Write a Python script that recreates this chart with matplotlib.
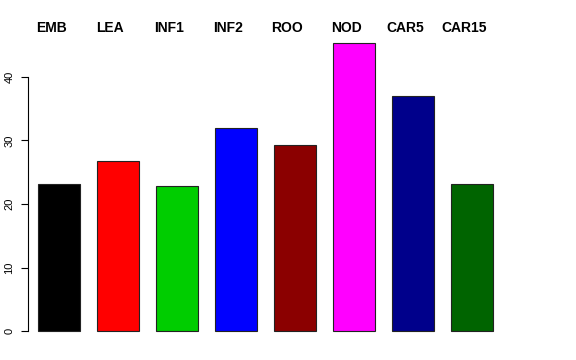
import matplotlib
matplotlib.use('Agg')
from matplotlib import pyplot as plt
import numpy as np

plt.rcParams['font.family'] = ['Liberation Sans', 'DejaVu Sans']

# 데이터
groups = ['EMB', 'LEA', 'INF1', 'INF2', 'ROO', 'NOD', 'CAR5', 'CAR15']
values = [23.2, 26.7, 22.9, 32.0, 29.3, 45.3, 37.0, 23.1]
colors = ['#000000', '#FF0000', '#00CD00', '#0000FF',
          '#8B0000', '#FF00FF', '#00008B', '#006400']
yticks = [0, 10, 20, 30, 40]

fig = plt.figure(figsize=(5.76, 3.6), dpi=100)
ax = fig.add_axes([28.3 / 576, 10 / 360, 531.7 / 576, 320 / 360])

x = np.arange(len(groups))
ax.bar(x, values, width=0.714, color=colors, edgecolor='#222222', linewidth=0.8)

# 막대 위쪽 그룹 이름
for i, g in enumerate(groups):
    ax.text(i - 0.14, 1.005, g, transform=ax.get_xaxis_transform(),
            ha='center', va='center', fontsize=10, fontweight='bold')

ax.set_xlim(-0.525, 8.487)
ax.set_ylim(-2.99, 47.4)

for s in ['top', 'right', 'bottom']:
    ax.spines[s].set_visible(False)
ax.spines['left'].set_bounds(0, 40)
ax.spines['left'].set_linewidth(0.8)
ax.set_xticks([])
ax.set_yticks(yticks)
ax.set_yticklabels([str(t) for t in yticks], rotation=90, va='center', fontsize=8)
ax.tick_params(axis='y', length=5, width=0.8, pad=5)

fig.savefig('out.png', dpi=100)
